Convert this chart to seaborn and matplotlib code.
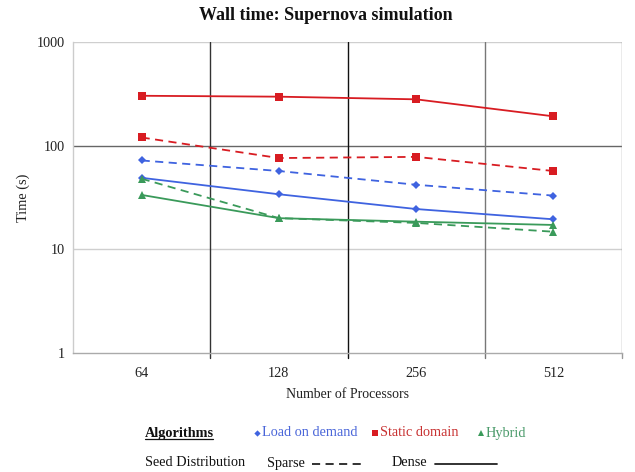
import matplotlib
matplotlib.use("Agg")
import matplotlib.pyplot as plt
import seaborn as sns
import pandas as pd
from matplotlib.lines import Line2D

processors = ["64", "128", "256", "512"]
load_sparse = [72, 57, 42, 33]
load_dense = [49, 34, 24.5, 19.5]
static_sparse = [120, 76, 78, 57]
static_dense = [303, 297, 280, 192]
hybrid_sparse = [48, 20, 18, 14.8]
hybrid_dense = [33.5, 20, 18.5, 17.2]
y_ticks = [1, 10, 100, 1000]

sns.set_theme(style="white")
plt.rcParams["font.family"] = ["Liberation Serif", "DejaVu Serif"]

BLUE = "#3f63e0"
RED = "#d81c22"
GREEN = "#3a9a5a"

series = [
    ("Load on demand", "Sparse", load_sparse, BLUE, "D", 4.5),
    ("Load on demand", "Dense", load_dense, BLUE, "D", 4.5),
    ("Static domain", "Sparse", static_sparse, RED, "s", 5.5),
    ("Static domain", "Dense", static_dense, RED, "s", 5.5),
    ("Hybrid", "Sparse", hybrid_sparse, GREEN, "^", 5.5),
    ("Hybrid", "Dense", hybrid_dense, GREEN, "^", 5.5),
]

fig = plt.figure(figsize=(6.35, 4.72), dpi=100)
ax = fig.add_axes([0.115, 0.252, 0.8645, 0.659])

for alg, seed, vals, col, mk, ms in series:
    df = pd.DataFrame({"pos": list(range(len(processors))), "time": vals})
    ls = (0, (4.5, 3)) if seed == "Sparse" else "-"
    sns.lineplot(data=df, x="pos", y="time", ax=ax, color=col, marker=mk,
                 markersize=ms, markeredgewidth=0, linewidth=1.3,
                 linestyle=ls, legend=False, zorder=3)

ax.set_yscale("log")
ax.set_ylim(1, 1000)
ax.set_xlim(-0.5, 3.5)
ax.set_xticks(range(len(processors)))
ax.set_xticklabels(processors)
ax.set_yticks(y_ticks)
ax.set_yticklabels([str(v) for v in y_ticks])
ax.minorticks_off()
ax.tick_params(axis="both", length=0, labelsize=10.3, colors="#222222", pad=6)
ax.tick_params(axis="x", pad=10)

# gridlines
for yv, c in [(1000, "#cfcfcf"), (100, "#666666"), (10, "#cfcfcf")]:
    ax.axhline(yv, color=c, linewidth=1.0, zorder=1)
for xv, c in [(0.5, "#333333"), (1.5, "#111111"), (2.5, "#777777"), (3.5, "#999999")]:
    ax.axvline(xv, color=c, linewidth=1.0, zorder=1)
    ax.plot([xv, xv], [1, 0.9], color=c, linewidth=1.0, clip_on=False, zorder=1)

for s in ["top", "right"]:
    ax.spines[s].set_visible(False)
ax.spines["left"].set_color("#cccccc")
ax.spines["bottom"].set_color("#aaaaaa")
ax.spines["left"].set_linewidth(1.0)
ax.spines["bottom"].set_linewidth(1.0)

ax.set_xlabel("Number of Processors", fontsize=10, color="#222222", labelpad=6)
ax.set_ylabel("Time (s)", fontsize=10.3, color="#222222", labelpad=5)


def fx(px):
    return px / 635.0


def fy(py):
    return 1 - py / 472.0


fig.text(fx(326), fy(15), "Wall time: Supernova simulation", fontsize=13,
         fontweight="bold", color="#111111", ha="center", va="center")

# custom legend
fig.text(fx(145), fy(433), "Algorithms", fontsize=10.3, fontweight="bold",
         color="#111111", va="center", ha="left")
fig.add_artist(Line2D([fx(145), fx(213)], [fy(439), fy(439)], color="#111111", linewidth=0.9))

leg_items = [(257, "Load on demand", BLUE, "#4a66d9", "D", 3.2),
             (375, "Static domain", RED, "#c83232", "s", 3.8),
             (481, "Hybrid", GREEN, "#4a9a6a", "^", 3.8)]
for x0, lab, col, tcol, mk, ms in leg_items:
    fig.add_artist(Line2D([fx(x0)], [fy(433)], marker=mk, color=col, markersize=ms,
                          markeredgewidth=0, linestyle="none"))
    fig.text(fx(x0 + 5), fy(433), lab, fontsize=10.3, color=tcol, va="center", ha="left")

fig.text(fx(145), fy(463), "Seed Distribution", fontsize=10.3, color="#111111", va="center")
fig.text(fx(267), fy(463), "Sparse", fontsize=10.3, color="#111111", va="center")
ld = Line2D([fx(312), fx(366)], [fy(464), fy(464)], color="#222222", linewidth=1.3,
            linestyle=(0, (4.5, 3)))
fig.add_artist(ld)
fig.text(fx(392), fy(463), "Dense", fontsize=10.3, color="#111111", va="center")
fig.add_artist(Line2D([fx(435), fx(497)], [fy(464), fy(464)], color="#222222", linewidth=1.3))

fig.savefig("out.png", dpi=100, facecolor="white")
